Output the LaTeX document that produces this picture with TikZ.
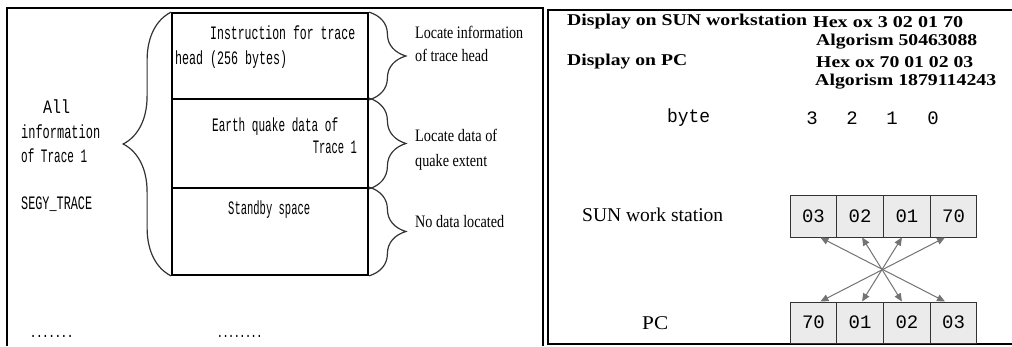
\documentclass[tikz,border=0pt]{standalone}
\usepackage{fontspec}
\setmainfont{Liberation Serif}
\newfontfamily\monof{Liberation Mono}
\usetikzlibrary{decorations.pathreplacing,arrows.meta,calc}
\newcommand\fitw[2]{\resizebox{#1pt}{\height}{#2}}
\begin{document}
\begin{tikzpicture}[x=1pt,y=-1pt]
\tikzset{
 frame/.style={line width=2pt},
 seg/.style={draw,line width=1.8pt,minimum width=196pt,inner sep=0},
 brc/.style={decorate,decoration={brace,amplitude=#1},line width=1.2pt,draw=black!80},
 mt/.style={font=\monof\fontsize{19}{19}\selectfont,inner sep=0,anchor=west},
 st/.style={font=\fontsize{17.5}{17.5}\selectfont,inner sep=0,anchor=west},
 bt/.style={font=\bfseries\fontsize{16.5}{16.5}\selectfont,inner sep=0,anchor=west},
 rt/.style={font=\fontsize{19.5}{19.5}\selectfont,inner sep=0,anchor=west},
 cell/.style={draw=black!80,fill=black!8,line width=1pt,minimum width=46.75pt,inner sep=0,font=\monof\fontsize{19}{19}\selectfont},
 xarr/.style={draw=black!55,line width=1pt,{Triangle[length=8pt,width=7pt]}-{Triangle[length=8pt,width=7pt]}}
}
\useasboundingbox (0,0) rectangle (1012,346);
\fill[white] (0,0) rectangle (1012,346);
% frames
\draw[frame] (7,346) -- (7,8) -- (543,8) -- (543,346);
\draw[frame] (1012,10) -- (547.5,10) -- (547.5,343.5) -- (1012,343.5);
% left panel boxes
\node[seg,minimum height=86pt] (b1) at (270,56) {};
\node[seg,minimum height=89pt] (b2) at (270,143.5) {};
\node[seg,minimum height=87pt] (b3) at (270,231.5) {};
\draw[brc=48pt] (b3.south west) -- (b1.north west);
\draw[brc=37pt] (b1.north east) -- (b1.south east);
\draw[brc=37pt] (b2.north east) -- (b2.south east);
\draw[brc=37pt] (b3.north east) -- (b3.south east);
% left texts
\node[mt] (all) at (43,107) {\fitw{27}{All}};
\node[mt] (info) at (21,132) {\fitw{79}{information}};
\node[mt] (oft) at (21,156) {\fitw{66}{of Trace 1}};
\node[mt] (segy) at (21,204) {\fitw{71}{SEGY\_TRACE}};
\node[mt] (i1) at (210,33) {\fitw{145}{Instruction for trace}};
\node[mt] (i2) at (175,60) {\fitw{112}{head (256 bytes)}};
\node[mt] (e1) at (212,127) {\fitw{126}{Earth quake data of}};
\node[mt,anchor=east] (e2) at (357,147) {\fitw{44}{Trace 1}};
\node[mt] (sb) at (228,210) {\fitw{82}{Standby space}};
\node[mt,font=\monof\bfseries\fontsize{14}{14}\selectfont] (d1) at (30,336) {\fitw{43}{.......}};
\node[mt,font=\monof\bfseries\fontsize{14}{14}\selectfont] (d2) at (217,336) {\fitw{45}{........}};
% brace labels
\node[st] (l1) at (415,32) {\fitw{108}{Locate information}};
\node[st] (l2) at (415,55) {\fitw{73}{of trace head}};
\node[st] (l3) at (415,135) {\fitw{82}{Locate data of}};
\node[st] (l4) at (415,162) {\fitw{72}{quake extent}};
\node[st] (l5) at (415,222) {\fitw{89}{No data located}};
% right panel header
\node[bt] (h1) at (567,22) {\fitw{240}{Display on SUN workstation}};
\node[bt] (h2) at (813,22) {\fitw{150}{Hex ox 3 02 01 70}};
\node[bt] (h3) at (816,42) {\fitw{161}{Algorism 50463088}};
\node[bt] (h4) at (567,62) {\fitw{120}{Display on PC}};
\node[bt] (h5) at (816,62) {\fitw{157}{Hex ox 70 01 02 03}};
\node[bt] (h6) at (815,82) {\fitw{181}{Algorism 1879114243}};
% byte row
\node[mt,font=\monof\fontsize{19}{19}\selectfont] (byte) at (667,118) {\fitw{43}{byte}};
\node[mt,anchor=center,font=\monof\fontsize{19}{19}\selectfont] (n3) at (812,118) {3};
\node[mt,anchor=center,font=\monof\fontsize{19}{19}\selectfont] (n2) at (852,118) {2};
\node[mt,anchor=center,font=\monof\fontsize{19}{19}\selectfont] (n1) at (892,118) {1};
\node[mt,anchor=center,font=\monof\fontsize{19}{19}\selectfont] (n0) at (933,118) {0};
% station labels
\node[rt] (sun) at (582,215) {\fitw{141}{SUN work station}};
\node[rt] (pc) at (642,323) {\fitw{26}{PC}};
% cells
\node[cell,minimum height=42pt] (t1) at (813.4,216) {03};
\node[cell,minimum height=42pt] (t2) at (860.1,216) {02};
\node[cell,minimum height=42pt] (t3) at (906.9,216) {01};
\node[cell,minimum height=42pt] (t4) at (953.6,216) {70};
\node[cell,minimum height=41pt] (p1) at (813.4,322.5) {70};
\node[cell,minimum height=41pt] (p2) at (860.1,322.5) {01};
\node[cell,minimum height=41pt] (p3) at (906.9,322.5) {02};
\node[cell,minimum height=41pt] (p4) at (953.6,322.5) {03};
% crossing arrows
\draw[xarr] ($(t1.south)+(7,0)$) -- ($(p4.north)+(-8.6,0)$);
\draw[xarr] ($(t2.south)+(2,0)$) -- ($(p3.north)+(-5,0)$);
\draw[xarr] ($(t3.south)+(-5,0)$) -- ($(p2.north)+(2,0)$);
\draw[xarr] ($(t4.south)+(-8.6,0)$) -- ($(p1.north)+(7,0)$);
\end{tikzpicture}
\end{document}
